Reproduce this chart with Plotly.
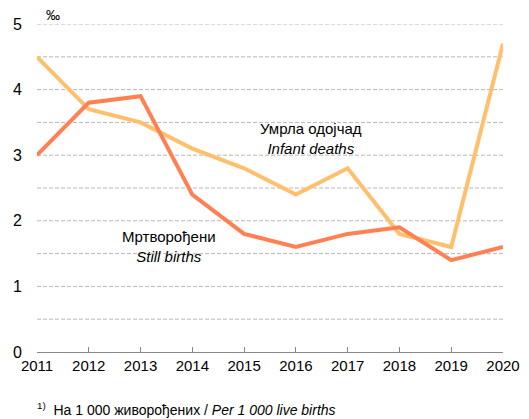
import plotly.graph_objects as go

years = [2011, 2012, 2013, 2014, 2015, 2016, 2017, 2018, 2019, 2020]
infant_deaths = [4.5, 3.7, 3.5, 3.1, 2.8, 2.4, 2.8, 1.8, 1.6, 4.7]
still_births = [3.0, 3.8, 3.9, 2.4, 1.8, 1.6, 1.8, 1.9, 1.4, 1.6]
y_ticks = [0, 1, 2, 3, 4, 5]

FONT = "Liberation Sans, Arial, sans-serif"

fig = go.Figure()
fig.add_trace(go.Scatter(x=years, y=infant_deaths, mode="lines",
                         line=dict(color="#FFBF6C", width=4), name="Infant deaths"))
fig.add_trace(go.Scatter(x=years, y=still_births, mode="lines",
                         line=dict(color="#FF8052", width=4), name="Still births"))

# page body has an 8px margin, so the figure is shrunk and shifted to compensate
fig.update_layout(
    width=521, height=411,
    margin=dict(l=29, r=26, t=16, b=67, autoexpand=False),
    plot_bgcolor="white", paper_bgcolor="white",
    showlegend=False,
    font=dict(family=FONT, size=15, color="#000"),
    xaxis=dict(range=[2011, 2020], tickvals=years, ticktext=[str(y) for y in years],
               showgrid=False, showline=True, linecolor="#888", linewidth=1,
               ticks="inside", ticklen=5, tickcolor="#888", zeroline=False,
               tickfont=dict(size=15), automargin=False),
    yaxis=dict(range=[0, 5], tickvals=y_ticks, showgrid=False, showline=False,
               zeroline=False, ticks="", tickfont=dict(size=16), ticklabelstandoff=14,
               automargin=False),
)

# dashed grid every 0.5
for i in range(1, 11):
    fig.add_shape(type="line", xref="paper", yref="y", x0=0, x1=1, y0=i * 0.5, y1=i * 0.5,
                  line=dict(color="#b8b8b8", width=1, dash="4px,2px"), layer="below")

fig.add_annotation(xref="paper", yref="paper", x=0.015, y=1.0, yshift=-1, text="‰",
                   showarrow=False, xanchor="left", yanchor="bottom", font=dict(size=14))
fig.add_annotation(x=2016.3, y=3.26, text="Умрла одојчад<br><i>Infant deaths</i>",
                   showarrow=False, font=dict(size=15), align="center")
fig.add_annotation(x=2013.55, y=1.61, text="Мртворођени<br><i>Still births</i>",
                   showarrow=False, font=dict(size=15), align="center")
fig.add_annotation(xref="paper", yref="paper", x=-0.005, y=0, yshift=-46,
                   text="<sup>1)</sup>  На 1 000 живорођених / <i>Per 1 000 live births</i>",
                   showarrow=False, xanchor="left", yanchor="top", font=dict(size=14))

fig.write_html("out.html")
